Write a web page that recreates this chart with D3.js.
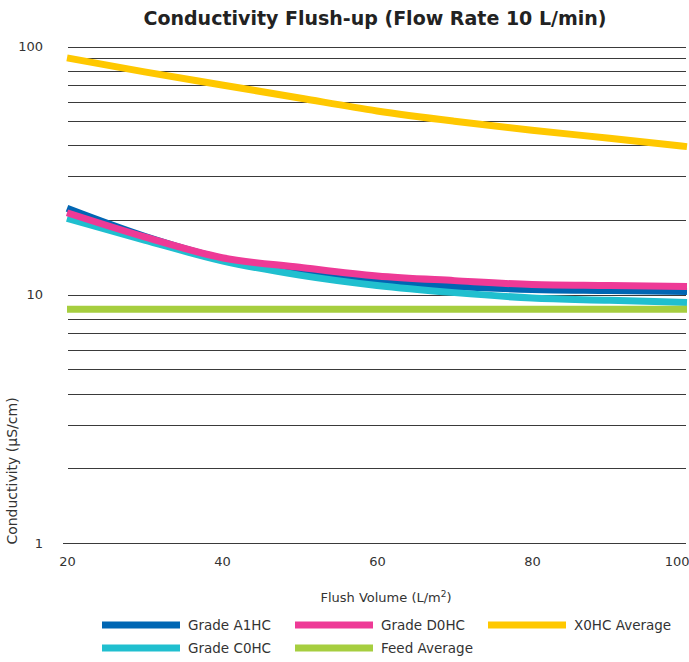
<!DOCTYPE html>
<html>
<head>
	<meta charset="utf-8">
	<script src="https://d3js.org/d3.v7.min.js"></script>
	<title>Conductivity Flush-up</title>
	<style>
		body { margin: 0; background: #fff; }
		text { font-family: "DejaVu Sans", Verdana, sans-serif; fill: #333; }
	</style>
</head>
<body>
	<div id="chart"></div>

	<script type="text/javascript">

		// flush volume (L/m2)
		var flushVolume = [20, 30, 40, 50, 60, 70, 80, 90, 100];

		// conductivity (uS/cm)
		var gradeA1HC = [22.3, 17.2, 14.0, 12.3, 11.3, 10.8, 10.5, 10.4, 10.3];
		var gradeC0HC = [20.3, 16.6, 13.7, 12.0, 10.9, 10.2, 9.7, 9.5, 9.3];
		var gradeD0HC = [21.4, 17.1, 14.1, 12.9, 11.9, 11.4, 11.0, 10.9, 10.8];
		var feedAverage = [8.75, 8.75, 8.75, 8.75, 8.75, 8.75, 8.75, 8.75, 8.75];
		var x0hcAverage = [90, 79, 70, 62, 55, 50, 46, 42.7, 39.5];

		var xTicks = [20, 40, 60, 80, 100];
		var yTicks = [1, 10, 100];

		// drawing order: bottom first
		var series = [
			{name: "Grade A1HC", values: gradeA1HC, color: "#0066b3"},
			{name: "Grade C0HC", values: gradeC0HC, color: "#20bfcf"},
			{name: "Grade D0HC", values: gradeD0HC, color: "#ee3a96"},
			{name: "Feed Average", values: feedAverage, color: "#a6ce3f"},
			{name: "X0HC Average", values: x0hcAverage, color: "#ffc800"}
		];
		var legendOrder = ["Grade A1HC", "Grade D0HC", "X0HC Average", "Grade C0HC", "Feed Average"];

		var svgwidth = 689;
		var svgheight = 662;
		var margin = {top: 46.5, right: 2, bottom: 119, left: 67};

		var svg = d3.select("#chart").append("svg")
			.attr("width", svgwidth)
			.attr("height", svgheight);

		var xScale = d3.scaleLinear()
			.domain([20, 100])
			.range([margin.left, svgwidth - margin.right]);

		var yScale = d3.scaleLog()
			.domain([1, 100])
			.range([svgheight - margin.bottom, margin.top]);

		// gridlines
		svg.selectAll(".grid")
			.data(yScale.ticks())
			.enter().append("line")
			.attr("class", "grid")
			.attr("x1", function(d){ return d === 1 ? margin.left - 4 : margin.left + 1; })
			.attr("x2", svgwidth - margin.right - 1)
			.attr("y1", function(d){ return Math.round(yScale(d)) + 0.5; })
			.attr("y2", function(d){ return Math.round(yScale(d)) + 0.5; })
			.attr("stroke", "#3a3a3a")
			.attr("stroke-width", 1.2);

		// y axis labels
		var yAxis = svg.append("g")
			.attr("transform", "translate(43,0)")
			.call(d3.axisLeft(yScale).tickValues(yTicks).tickSize(0).tickPadding(0).tickFormat(d3.format("d")));
		yAxis.select(".domain").remove();
		yAxis.selectAll("text")
			.style("font-family", "'DejaVu Sans', Verdana, sans-serif")
			.style("font-size", "13px")
			.attr("fill", "#333");

		// x axis labels
		var xAxis = svg.append("g")
			.attr("transform", "translate(0," + (svgheight - margin.bottom + 14) + ")")
			.call(d3.axisBottom(xScale).tickValues(xTicks).tickSize(0).tickPadding(0));
		xAxis.select(".domain").remove();
		xAxis.selectAll("text")
			.style("font-family", "'DejaVu Sans', Verdana, sans-serif")
			.style("font-size", "13px")
			.attr("fill", "#333");
		xAxis.selectAll(".tick").filter(function(d){ return d === 100; })
			.select("text").attr("text-anchor", "end").attr("dx", 2);

		// lines
		var line = d3.line()
			.x(function(d, i){ return xScale(flushVolume[i]); })
			.y(function(d){ return yScale(d); })
			.curve(d3.curveMonotoneX);

		svg.selectAll(".series")
			.data(series)
			.enter().append("path")
			.attr("class", "series")
			.attr("d", function(d){ return line(d.values); })
			.attr("fill", "none")
			.attr("stroke", function(d){ return d.color; })
			.attr("stroke-width", 7);

		// titles
		svg.append("text")
			.attr("x", 375)
			.attr("y", 25)
			.attr("text-anchor", "middle")
			.style("font-size", "19px")
			.style("font-weight", "bold")
			.style("fill", "#222")
			.text("Conductivity Flush-up (Flow Rate 10 L/min)");

		svg.append("text")
			.attr("transform", "translate(17,471) rotate(-90)")
			.attr("text-anchor", "middle")
			.style("font-size", "14px")
			.text("Conductivity (\u00b5S/cm)");

		var xTitle = svg.append("text")
			.attr("x", 386)
			.attr("y", 602)
			.attr("text-anchor", "middle")
			.style("font-size", "13px");
		xTitle.append("tspan").text("Flush Volume (L/m");
		xTitle.append("tspan").attr("dy", -5).style("font-size", "9px").text("2");
		xTitle.append("tspan").attr("dy", 5).text(")");

		// legend
		var legend = svg.selectAll(".legend")
			.data(legendOrder)
			.enter().append("g")
			.attr("class", "legend")
			.attr("transform", function(d, i){
				return "translate(" + (102 + (i % 3) * 193) + "," + (625 + Math.floor(i / 3) * 23) + ")";
			});

		legend.append("line")
			.attr("x1", 0)
			.attr("x2", 78)
			.attr("stroke", function(d){
				return series.find(function(s){ return s.name === d; }).color;
			})
			.attr("stroke-width", 7);

		legend.append("text")
			.attr("x", 86)
			.attr("y", 5)
			.style("font-size", "13.5px")
			.text(function(d){ return d; });

	</script>
</body>
</html>
